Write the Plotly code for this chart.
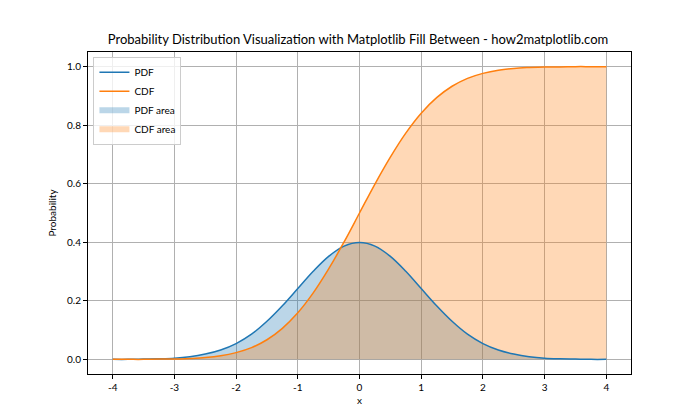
import plotly.graph_objects as go

x_vals = [-4.0, -3.75, -3.5, -3.25, -3.0, -2.75, -2.5, -2.25, -2.0, -1.75, -1.5, -1.25, -1.0,
          -0.75, -0.5, -0.25, 0.0, 0.25, 0.5, 0.75, 1.0, 1.25, 1.5, 1.75, 2.0, 2.25, 2.5,
          2.75, 3.0, 3.25, 3.5, 3.75, 4.0]
pdf_vals = [0.000, 0.000, 0.001, 0.002, 0.004, 0.009, 0.018, 0.032, 0.054, 0.086, 0.130, 0.183, 0.242,
            0.301, 0.352, 0.387, 0.399, 0.387, 0.352, 0.301, 0.242, 0.183, 0.130, 0.086, 0.054,
            0.032, 0.018, 0.009, 0.004, 0.002, 0.001, 0.000, 0.000]
cdf_vals = [0.000, 0.000, 0.000, 0.001, 0.001, 0.003, 0.006, 0.012, 0.023, 0.040, 0.067, 0.106, 0.159,
            0.227, 0.309, 0.401, 0.500, 0.599, 0.691, 0.773, 0.841, 0.894, 0.933, 0.960, 0.977,
            0.988, 0.994, 0.997, 0.999, 0.999, 1.000, 1.000, 1.000]
x_ticks = [-4, -3, -2, -1, 0, 1, 2, 3, 4]
y_ticks = [0.0, 0.2, 0.4, 0.6, 0.8, 1.0]

BLUE = "#1f77b4"
ORANGE = "#ff7f0e"

fig = go.Figure()
fig.add_trace(go.Scatter(x=x_vals, y=pdf_vals, mode="none", fill="tozeroy",
                         fillcolor="rgba(31,119,180,0.3)", name="PDF area", legendrank=3,
                         line=dict(shape="spline")))
fig.add_trace(go.Scatter(x=x_vals, y=cdf_vals, mode="none", fill="tozeroy",
                         fillcolor="rgba(255,127,14,0.3)", name="CDF area", legendrank=4,
                         line=dict(shape="spline")))
fig.add_trace(go.Scatter(x=x_vals, y=pdf_vals, mode="lines", name="PDF", legendrank=1,
                         line=dict(color=BLUE, width=1.5, shape="spline")))
fig.add_trace(go.Scatter(x=x_vals, y=cdf_vals, mode="lines", name="CDF", legendrank=2,
                         line=dict(color=ORANGE, width=1.5, shape="spline")))

axis_common = dict(showgrid=True, gridcolor="#b0b0b0", gridwidth=0.8, showline=True,
                   linecolor="black", linewidth=1, mirror=True, ticks="outside", ticklen=4,
                   tickcolor="black", zeroline=False, tickfont=dict(size=10, color="black"))

fig.update_layout(
    width=700, height=420,
    margin=dict(l=80, r=77, t=44, b=54),
    paper_bgcolor="white", plot_bgcolor="white",
    font=dict(family="Lato, Noto Sans, sans-serif", size=10, color="black"),
    title=dict(text="Probability Distribution Visualization with Matplotlib Fill Between - how2matplotlib.com",
               x=0.5, xanchor="center", y=0.915, yanchor="bottom", font=dict(size=13)),
    showlegend=True,
    legend=dict(x=0.01, y=0.985, xanchor="left", yanchor="top", bgcolor="rgba(255,255,255,0.8)",
                bordercolor="#cccccc", borderwidth=1, font=dict(size=10), tracegroupgap=0,
                itemwidth=30),
    xaxis=dict(range=[-4.4, 4.4], tickvals=x_ticks, ticktext=[str(t) for t in x_ticks],
               title=dict(text="x", standoff=4, font=dict(size=10)), **axis_common),
    yaxis=dict(range=[-0.05, 1.05], tickvals=y_ticks, ticktext=[f"{t:.1f}" for t in y_ticks],
               title=dict(text="Probability", standoff=8, font=dict(size=10)), **axis_common),
)

fig.write_html("out.html")
